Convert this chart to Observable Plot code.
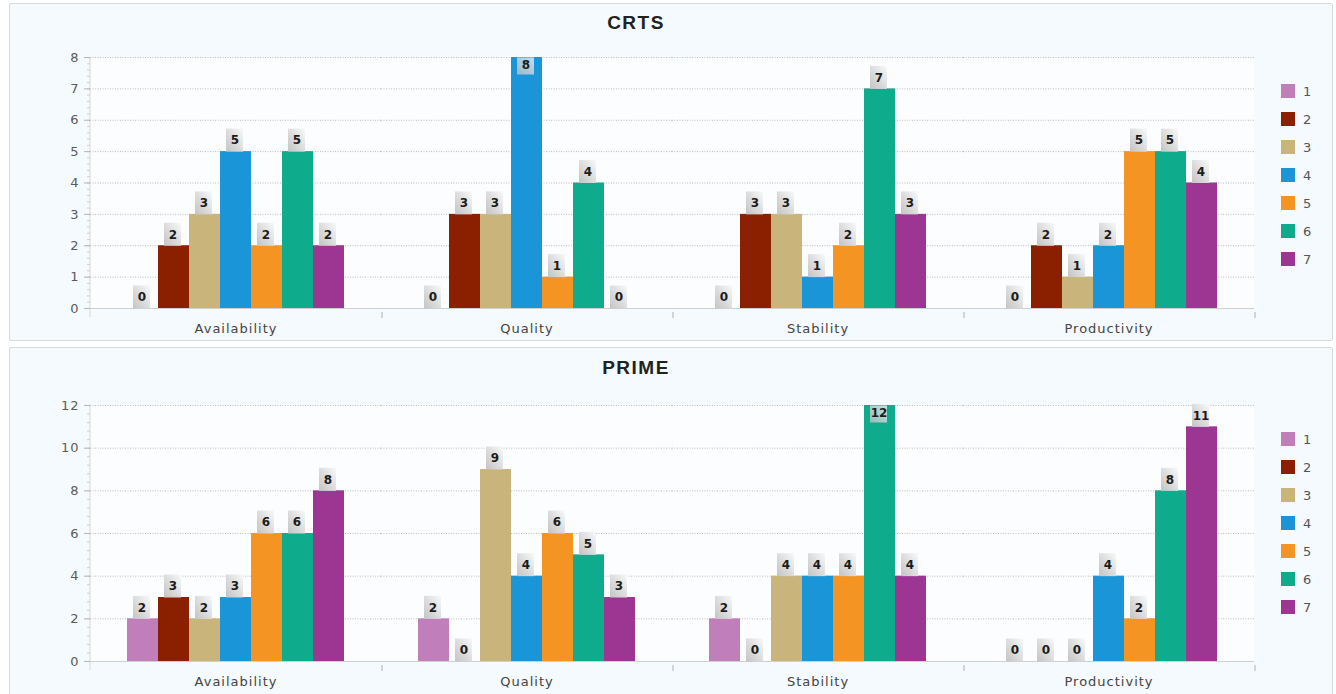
<!DOCTYPE html>
<html>
<head>
<meta charset="utf-8">
<script src="https://cdn.jsdelivr.net/npm/d3@7"></script>
<script src="https://cdn.jsdelivr.net/npm/@observablehq/plot@0.6"></script>
<style>
  html, body { margin: 0; padding: 0; background: #ffffff; }
  body { position: relative; width: 1336px; height: 694px; overflow: hidden; font-family: "DejaVu Sans", sans-serif; }
  .panel { position: absolute; left: 9px; width: 1324px; border: 1px solid #d3dce1; background: #f4fafd; border-radius: 2px; box-sizing: border-box; }
  .title { position: absolute; left: 0; width: 1272px; text-align: center; font: bold 19px "Liberation Sans", Arial, sans-serif; letter-spacing: 1.5px; color: #222; line-height: 20px; }
  .chart { position: absolute; left: 0; }
  .legend { position: absolute; left: 1281px; }
  .legend .row { display: flex; align-items: center; height: 28px; }
  .legend .sw { width: 14px; height: 14px; margin-right: 8px; }
  .legend .lab { font: 13px "DejaVu Sans", sans-serif; color: #555; }
  .chart [aria-label="fx-axis tick label"] text { letter-spacing: 1px; }
  .chart [aria-label="y-axis tick label"] text { letter-spacing: 1px; }
</style>
</head>
<body>
<div class="panel" style="top:3px;height:338px"></div>
<div class="panel" style="top:347px;height:352px"></div>
<div class="title" style="top:13px">CRTS</div>
<div class="title" style="top:358px">PRIME</div>
<div id="crts" class="chart" style="top:40px"></div>
<div id="prime" class="chart" style="top:390px"></div>
<div id="legend-crts" class="legend" style="top:77px"></div>
<div id="legend-prime" class="legend" style="top:425px"></div>
<script>
// Categories along the x axis and the seven series within each group
const categories = ["Availability", "Quality", "Stability", "Productivity"];
const series = ["1", "2", "3", "4", "5", "6", "7"];
const palette = ["#c07fba", "#8b2000", "#c9b47b", "#1a96d8", "#f39423", "#0eac8c", "#9d3592"];

// CRTS counts, one array per category (series 1..7)
const crtsAvailability = [0, 2, 3, 5, 2, 5, 2];
const crtsQuality      = [0, 3, 3, 8, 1, 4, 0];
const crtsStability    = [0, 3, 3, 1, 2, 7, 3];
const crtsProductivity = [0, 2, 1, 2, 5, 5, 4];

// PRIME counts, one array per category (series 1..7)
const primeAvailability = [2, 3, 2, 3, 6, 6, 8];
const primeQuality      = [2, 0, 9, 4, 6, 5, 3];
const primeStability    = [2, 0, 4, 4, 4, 12, 4];
const primeProductivity = [0, 0, 0, 4, 2, 8, 11];

// y-axis ticks
const crtsTicks = [0, 1, 2, 3, 4, 5, 6, 7, 8];
const primeTicks = [0, 2, 4, 6, 8, 10, 12];

function toRows(arrays) {
  return categories.flatMap((c, i) => series.map((s, j) => ({category: c, series: s, value: arrays[i][j]})));
}

// Value-label boxes: a small shaded tab sitting on the bar top (or tucked inside when the bar hits the top)
const boxAbove = {draw(ctx) { ctx.rect(-8, -23, 17, 23); }};
const boxInside = {draw(ctx) { ctx.rect(-8, 0, 17, 17); }};

function drawChart({id, rows, ticks, minorStep, height, marginTop, marginBottom}) {
  const maxY = ticks[ticks.length - 1];
  const minor = d3.range(0, maxY + 1e-9, minorStep);
  const gradId = "tab-" + id;

  // axis line and group separators; drawn once, in the first facet (which sits untranslated)
  let drawn = false;
  const decor = (index, scales, values, dims) => {
    if (drawn) return null;
    drawn = true;
    const g = d3.create("svg:g");
    const grad = g.append("defs").append("linearGradient")
      .attr("id", gradId).attr("x1", 0).attr("y1", 1).attr("x2", 1).attr("y2", 0);
    grad.append("stop").attr("offset", "0%").attr("stop-color", "#c4c4c4");
    grad.append("stop").attr("offset", "55%").attr("stop-color", "#e0e0e0");
    grad.append("stop").attr("offset", "100%").attr("stop-color", "#f8f9f9");
    const y = scales.y;
    const left = dims.marginLeft, right = dims.width - dims.marginRight;
    const fx = scales.fx || d3.scaleBand().domain(categories).range([left, right]);
    const y0 = y(0);
    // vertical axis line
    g.append("line").attr("x1", left).attr("x2", left).attr("y1", y(maxY)).attr("y2", y0 + 9)
      .attr("stroke", "#d8d8d8");
    // group boundary ticks
    categories.forEach(c => {
      const xr = fx(c) + fx.bandwidth();
      g.append("line").attr("x1", xr).attr("x2", xr).attr("y1", y0 + 4).attr("y2", y0 + 10)
        .attr("stroke", "#b0b0b0");
    });
    return g.node();
  };

  const chart = Plot.plot({
    width: 1336,
    height,
    marginLeft: 89,
    marginRight: 81,
    marginTop,
    marginBottom,
    style: {background: "transparent", fontFamily: "DejaVu Sans, sans-serif", fontSize: "12px", overflow: "visible"},
    fx: {domain: categories, padding: 0, label: null},
    x: {domain: series, paddingInner: 0, paddingOuter: 1.14, axis: null},
    y: {domain: [0, maxY], axis: null},
    color: {domain: series, range: palette},
    marks: [
      Plot.frame({fill: "#fbfdfe", stroke: null}),
      decor,
      Plot.gridY(ticks.filter(t => t > 0), {stroke: "#bdbdbd", strokeOpacity: 1, strokeDasharray: "1,1.5"}),
      Plot.ruleY([0], {stroke: "#cfcfcf"}),
      Plot.axisY(minor, {tickSize: 3, tickFormat: () => "", stroke: "#d0d0d0", label: null}),
      Plot.axisY(ticks, {tickSize: 6, tickPadding: 5, stroke: "#b5b5b5", fill: "#5a5a5a", fontSize: 13, label: null}),
      Plot.barY(rows, {fx: "category", x: "series", y: "value", fill: "series"}),
      Plot.dot(rows, {filter: d => d.value < maxY, fx: "category", x: "series", y: "value",
        symbol: boxAbove, r: 5, fill: `url(#${gradId})`, stroke: null, dx: -2}),
      Plot.dot(rows, {filter: d => d.value >= maxY, fx: "category", x: "series", y: "value",
        symbol: boxInside, r: 5, fill: `url(#${gradId})`, fillOpacity: 0.75, stroke: null, dx: -2}),
      Plot.text(rows, {filter: d => d.value < maxY, fx: "category", x: "series", y: "value",
        text: d => String(d.value), dy: -11, dx: -1, fontWeight: "bold", fontSize: 12, fill: "#1c1c1c"}),
      Plot.text(rows, {filter: d => d.value >= maxY, fx: "category", x: "series", y: "value",
        text: d => String(d.value), dy: 8, dx: -1, fontWeight: "bold", fontSize: 12, fill: "#1c1c1c"}),
      Plot.axisFx({anchor: "bottom", tickSize: 0, tickPadding: 15, fill: "#444", fontSize: 13, label: null})
    ]
  });
  document.getElementById(id).append(chart);

  // legend built from the chart's own color scale
  const color = chart.scale("color");
  const legend = d3.select("#legend-" + id);
  color.domain.forEach((d, i) => {
    const row = legend.append("div").attr("class", "row");
    row.append("div").attr("class", "sw").style("background", color.range[i]);
    row.append("div").attr("class", "lab").text(d);
  });
}

drawChart({id: "crts", rows: toRows([crtsAvailability, crtsQuality, crtsStability, crtsProductivity]),
  ticks: crtsTicks, minorStep: 0.2, height: 300, marginTop: 17, marginBottom: 32});
drawChart({id: "prime", rows: toRows([primeAvailability, primeQuality, primeStability, primeProductivity]),
  ticks: primeTicks, minorStep: 0.4, height: 303, marginTop: 15, marginBottom: 32});
</script>
</body>
</html>
